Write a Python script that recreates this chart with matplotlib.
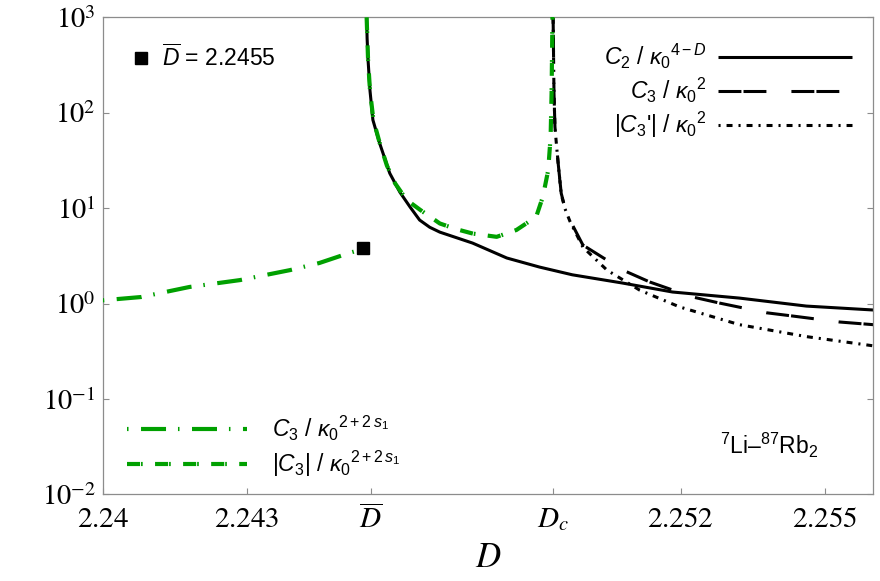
import matplotlib
matplotlib.use("Agg")
import matplotlib.pyplot as plt
from matplotlib.ticker import NullLocator

# ---- data ----
D_BAR_TICK = 2.24557
D_C = 2.24935

# C2 / kappa0^(4-D), solid black
c2_D = [2.24548, 2.24549, 2.24551, 2.24555, 2.24561, 2.24575, 2.24596, 2.24617,
        2.24638, 2.24658, 2.24679, 2.24700, 2.24768, 2.24839, 2.24907, 2.24975,
        2.25079, 2.25183, 2.25322, 2.25461, 2.25600]
c2_v = [1000, 600, 355, 170, 84, 47.9, 23.2, 14.7, 10.3, 7.5, 6.3, 5.6, 4.3, 3.0,
        2.41, 2.0, 1.64, 1.32, 1.14, 0.94, 0.855]

# C3 / kappa0^2, long dashes
c3_D = [2.24935, 2.24937, 2.24939, 2.24942, 2.24946, 2.24952, 2.24960, 2.24970,
        2.24997, 2.25080, 2.25136, 2.25225, 2.25281, 2.25378, 2.25432, 2.25530,
        2.25600]
c3_v = [1200, 160, 71, 48, 28.4, 14.3, 10.0, 7.5, 4.1, 2.24, 1.68, 1.17, 1.01, 0.80,
        0.74, 0.64, 0.60]

# |C3'| / kappa0^2, dot-dash
c3p_D = [2.24935, 2.24937, 2.24939, 2.24942, 2.24946, 2.24952, 2.24960, 2.24970,
         2.24997, 2.25047, 2.25115, 2.25198, 2.25322, 2.25461, 2.25600]
c3p_v = [1200, 160, 71, 47, 28, 14.0, 9.8, 7.3, 3.9, 2.24, 1.38, 0.92, 0.60, 0.45,
         0.36]

# C3 / kappa0^(2+2s1) below D_bar (green)
c3s_D = [2.2400, 2.2408, 2.2418, 2.24285, 2.24389, 2.24450, 2.24513, 2.2453]
c3s_v = [1.08, 1.17, 1.49, 1.76, 2.24, 2.66, 3.4, 3.6]

# |C3| / kappa0^(2+2s1) between D_bar and D_c (green)
c3abs_D = [2.24548, 2.24551, 2.24555, 2.24562, 2.24575, 2.24590, 2.24607, 2.24631,
           2.24659, 2.24700, 2.24735, 2.24769, 2.24818, 2.24859, 2.24900, 2.24914,
           2.24925, 2.24930, 2.24932, 2.24934]
c3abs_v = [1000, 355, 170, 84, 48.5, 28, 18.2, 12.2, 9.6, 6.9, 6.0, 5.4, 5.0, 5.9,
           8.1, 13.2, 25, 56, 160, 1200]

# marker at D_bar
sq_D = [2.2454]
sq_v = [3.8]

x_ticks = [2.24, 2.243, D_BAR_TICK, D_C, 2.252, 2.255]
x_labels = [r"$2.24$", r"$2.243$", r"$\overline{D}$", r"$D_c$", r"$2.252$", r"$2.255$"]
y_ticks = [1e-2, 1e-1, 1e0, 1e1, 1e2, 1e3]
y_labels = [r"$10^{-2}$", r"$10^{-1}$", r"$10^{0}$", r"$10^{1}$", r"$10^{2}$", r"$10^{3}$"]

# ---- style ----
plt.rcParams["font.family"] = ["Liberation Sans", "DejaVu Sans"]
plt.rcParams["mathtext.fontset"] = "custom"
plt.rcParams["mathtext.rm"] = "Liberation Sans"
plt.rcParams["mathtext.it"] = "Liberation Sans:italic"
plt.rcParams["mathtext.bf"] = "Liberation Sans:bold"
plt.rcParams["mathtext.sf"] = "Liberation Sans"
plt.rcParams["lines.scale_dashes"] = False

GREEN = "#00a000"
FRAME = "#8c8c8c"
FS = 16.5

fig = plt.figure(figsize=(8.8, 5.81), dpi=100)
ax = fig.add_axes([0.1167, 0.1492, 0.8757, 0.821])

line_c2, = ax.plot(c2_D, c2_v, color="black", lw=2.2, solid_capstyle="butt",
                   label=r"$C_2$ / ${\kappa_0}^{4-D}$")
line_c3, = ax.plot(c3_D, c3_v, color="black", lw=2.2,
                   dashes=(16.5, 1.5, 16.5, 18), label=r"$C_3$ / ${\kappa_0}^{2}$")
line_c3p, = ax.plot(c3p_D, c3p_v, color="black", lw=2.2,
                    dashes=(1.5, 4.3, 4.3, 4.3), label=r"$|C_3$'$|$ / ${\kappa_0}^{2}$")
line_g1, = ax.plot(c3s_D, c3s_v, color=GREEN, lw=3.0, zorder=3,
                   dashes=(1.1, 9, 18, 8.6), label=r"$C_3$ / ${\kappa_0}^{2+2\,s_1}$")
line_g2, = ax.plot(c3abs_D, c3abs_v, color=GREEN, lw=3.0, zorder=3,
                   dashes=(9.4, 0.7, 1.2, 8.9), label=r"$|C_3|$ / ${\kappa_0}^{2+2\,s_1}$")
sq, = ax.plot(sq_D, sq_v, ls="none", marker="s", ms=8.5, color="black", zorder=4,
              label=r"$\overline{D}$ = 2.2455")

ax.set_yscale("log")
ax.set_xlim(2.24, 2.256)
ax.set_ylim(1e-2, 1e3)

ax.set_xticks(x_ticks, x_labels, math_fontfamily="stix", fontsize=21)
ax.set_yticks(y_ticks, y_labels, math_fontfamily="stix", fontsize=20.5)
ax.yaxis.set_minor_locator(NullLocator())
ax.xaxis.set_minor_locator(NullLocator())
ax.tick_params(direction="in", length=4.3, width=0.8, color=FRAME)
ax.tick_params(axis="y", right=True, pad=5)
ax.tick_params(axis="x", top=False, pad=7.5)
for s in ax.spines.values():
    s.set_color(FRAME)
    s.set_linewidth(0.9)

ax.set_xlabel(r"$D$", fontsize=25, math_fontfamily="stix", labelpad=5)

# legends
leg_top = ax.legend(handles=[line_c2, line_c3, line_c3p], loc="upper right",
                    bbox_to_anchor=(0.972, 0.948), markerfirst=False, frameon=False,
                    fontsize=FS, handlelength=5.85, handletextpad=0.48,
                    labelspacing=0.2, borderpad=0, borderaxespad=0)
ax.add_artist(leg_top)
leg_sq = ax.legend(handles=[sq], loc="upper left", bbox_to_anchor=(0.035, 0.944),
                   frameon=False, fontsize=FS, handlelength=1.0, handletextpad=0.41,
                   markerscale=1.1, borderpad=0, borderaxespad=0)
ax.add_artist(leg_sq)
ax.legend(handles=[line_g1, line_g2], loc="lower left", bbox_to_anchor=(0.0315, 0.032),
          frameon=False, fontsize=FS, handlelength=5.24, handletextpad=1.1,
          labelspacing=0.25, borderpad=0, borderaxespad=0)

ax.text(0.801, 0.103, r"$^{7}\mathrm{Li}$–$^{87}\mathrm{Rb}_2$", transform=ax.transAxes,
        fontsize=FS, ha="left", va="center")

fig.savefig("out.png", dpi=100)
